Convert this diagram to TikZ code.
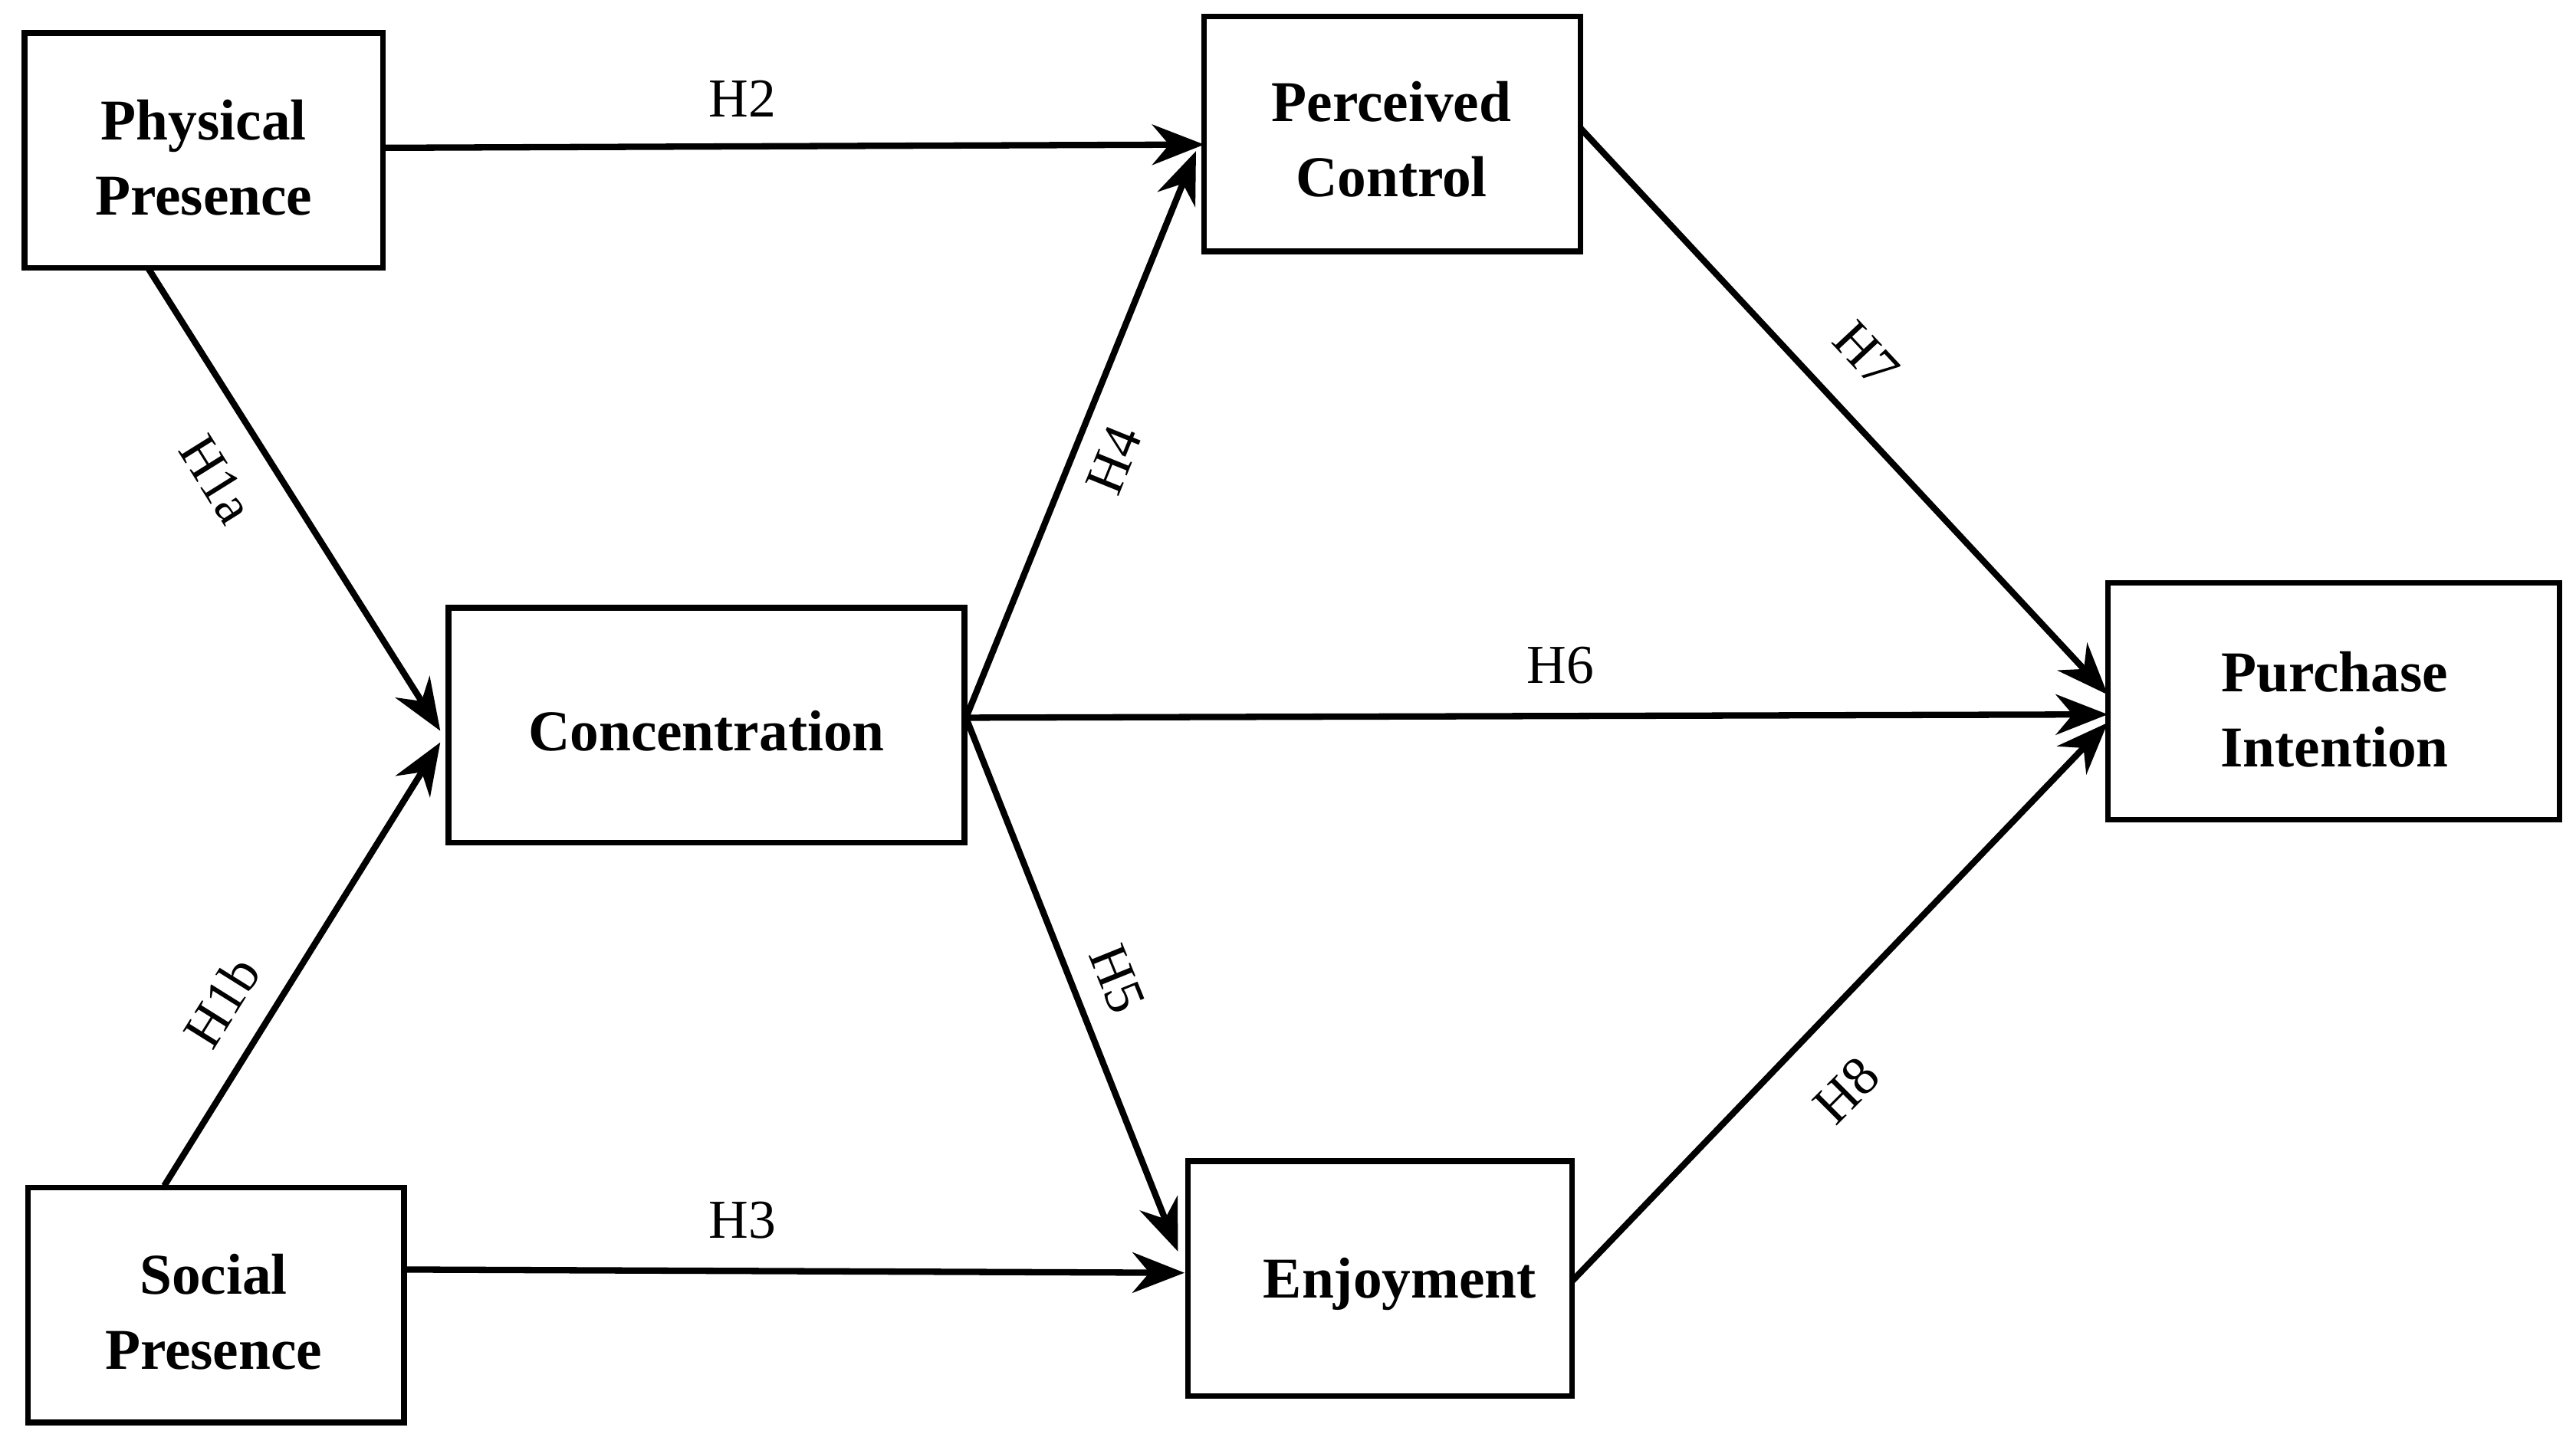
\documentclass[tikz,border=0pt]{standalone}
\usepackage{fontspec}
\setmainfont{Liberation Serif}
\usetikzlibrary{arrows.meta}
\begin{document}
\begin{tikzpicture}[x=0.01cm,y=-0.01cm,
  box/.style={draw,line width=1pt,fill=white},
  lbl/.style={font=\fontsize{10}{13}\selectfont\bfseries,align=center},
  arr/.style={line width=1.1pt,-{Stealth[length=9pt,width=7pt]}},
  hl/.style={font=\fontsize{9.5}{11}\selectfont}]
\useasboundingbox (0,0) rectangle (1568,881);
\fill[white] (0,0) rectangle (1568,881);
\draw[box] (15,20) rectangle (233,163);
\node[lbl] (pp) at (124,96) {Physical\\Presence};
\coordinate (ppr) at (233,90); \coordinate (ppb) at (90,163);
\draw[box] (733,10) rectangle (962,153);
\node[lbl] (pc) at (847,85) {Perceived\\Control};
\coordinate (pcl) at (733,88); \coordinate (pclb) at (728,92); \coordinate (pcr) at (962,78);
\draw[box] (273,370) rectangle (587,513);
\node[lbl] (co) at (430,445) {Concentration};
\coordinate (col1) at (268,445); \coordinate (col2) at (268,452); \coordinate (cor) at (588,437);
\draw[box] (1283,355) rectangle (1558,499);
\node[lbl] (pi) at (1421,432) {Purchase\\Intention};
\coordinate (pil1) at (1283,423); \coordinate (pil2) at (1283,435); \coordinate (pil3) at (1283,440);
\draw[box] (17,723) rectangle (246,866);
\node[lbl] (sp) at (130,799) {Social\\Presence};
\coordinate (spt) at (100,722); \coordinate (spr) at (246,773);
\draw[box] (723,707) rectangle (957,850);
\node[lbl] (en) at (852,782) {Enjoyment};
\coordinate (enl1) at (717,762); \coordinate (enl2) at (721,775); \coordinate (enr) at (957,780);
\draw[arr] (ppr) -- (pcl);
\draw[arr] (ppb) -- (col1);
\draw[arr] (spt) -- (col2);
\draw[arr] (cor) -- (pclb);
\draw[arr] (cor) -- (pil2);
\draw[arr] (cor) -- (enl1);
\draw[arr] (spr) -- (enl2);
\draw[arr] (pcr) -- (pil1);
\draw[arr] (enr) -- (pil3);
\node[hl] (h2) at (452,60) {H2};
\node[hl,rotate=-58] (h1a) at (132,292) {H1a};
\node[hl,rotate=58] (h1b) at (135,610) {H1b};
\node[hl,rotate=68] (h4) at (678,280) {H4};
\node[hl] (h6) at (950,405) {H6};
\node[hl,rotate=-68] (h5) at (680,596) {H5};
\node[hl] (h3) at (452,743) {H3};
\node[hl,rotate=-47] (h7) at (1136,216) {H7};
\node[hl,rotate=45] (h8) at (1124,664) {H8};
\end{tikzpicture}
\end{document}
